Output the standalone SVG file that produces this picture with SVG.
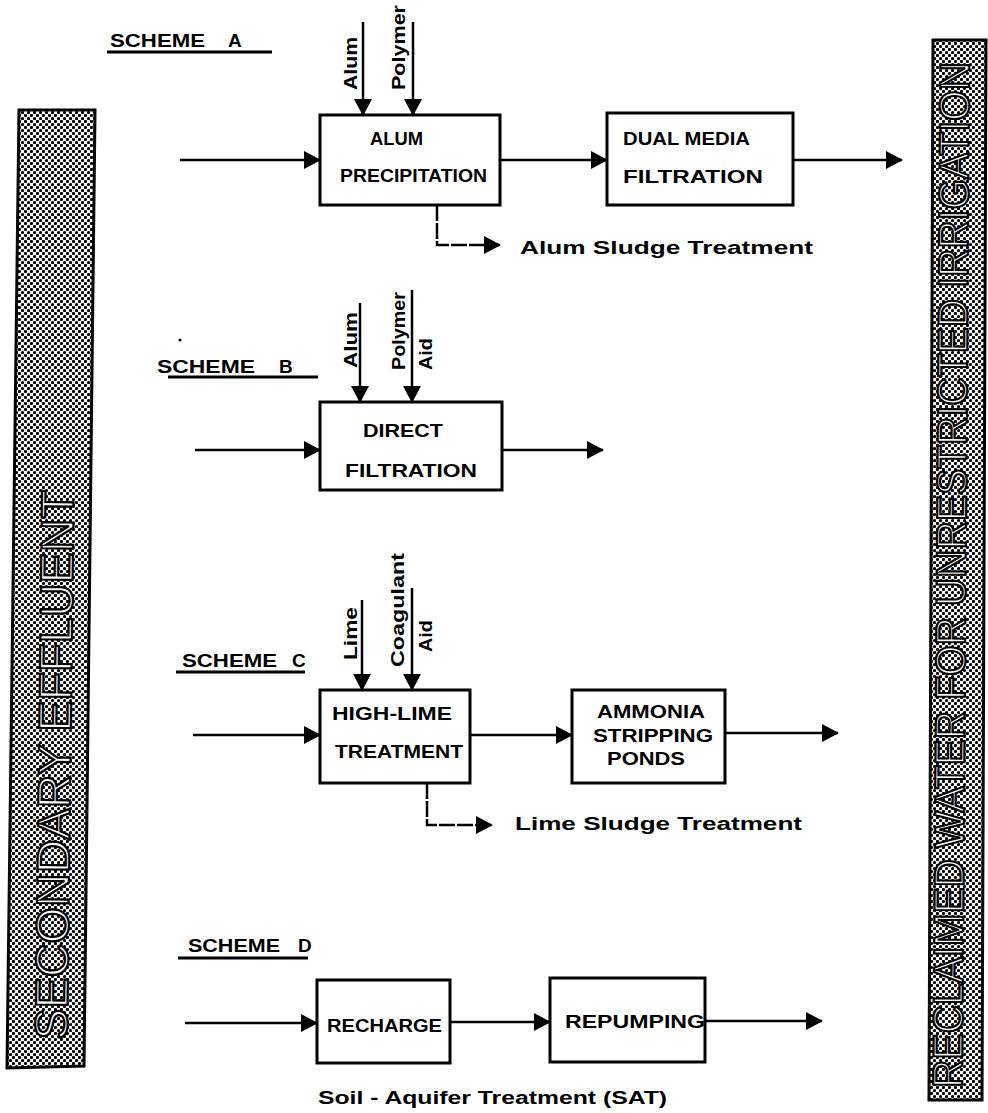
<svg xmlns="http://www.w3.org/2000/svg" width="988" height="1113" viewBox="0 0 988 1113">
<defs>
<pattern id="dots" x="0" y="0" width="6" height="6" patternUnits="userSpaceOnUse">
<rect width="6" height="6" fill="#fff"/>
<circle cx="1.5" cy="1.5" r="1.6" fill="#000"/>
<circle cx="4.5" cy="4.5" r="1.6" fill="#000"/>
</pattern>
<marker id="ah" markerUnits="userSpaceOnUse" markerWidth="17" markerHeight="18" viewBox="0 0 17 18" refX="16" refY="9" orient="auto">
<path d="M0,0 L17,9 L0,18 z" fill="#000"/>
</marker>
</defs>
<style>
.box{fill:#fff;stroke:#000;stroke-width:3}
.ln{fill:none;stroke:#000;stroke-width:2.5}
.arr{marker-end:url(#ah)}
.sl{stroke-dasharray:16 2}
.t{font-family:"Liberation Sans",Arial,sans-serif;font-weight:bold;fill:#000}
.bx{font-size:18px;text-anchor:start}
.sc{font-size:19px}
.ch{font-size:18px}
.bar{stroke:#000;stroke-width:3;fill:url(#dots)}
.bt{font-family:"Liberation Sans",Arial,sans-serif;fill:#fff;stroke:#000;stroke-width:2.2}
.ul{stroke:#000;stroke-width:3}
</style>
<rect width="988" height="1113" fill="#fff"/>

<g id="secondary-effluent">
<polygon class="bar" points="19,110 95,110 84,1066 7,1068"/>
<text class="bt" font-size="46" transform="translate(67,1040) rotate(-89.3)" textLength="550" lengthAdjust="spacingAndGlyphs">SECONDARY  EFFLUENT</text>
</g>

<g id="reclaimed-water">
<polygon class="bar" points="933,40 986,40 982,1100 929,1100"/>
<text class="bt" font-size="42" transform="translate(962,1088) rotate(-89.6)" textLength="1026" lengthAdjust="spacingAndGlyphs">RECLAIMED WATER FOR UNRESTRICTED IRRIGATION</text>
</g>

<g id="scheme-a-title">
<text class="t sc" y="47"><tspan x="110" textLength="95" lengthAdjust="spacingAndGlyphs">SCHEME</tspan><tspan x="228">A</tspan></text>
<line class="ul" x1="107" y1="52" x2="272" y2="52"/>
</g>
<g id="scheme-b-title">
<text class="t sc" y="373"><tspan x="157" textLength="98" lengthAdjust="spacingAndGlyphs">SCHEME</tspan><tspan x="279">B</tspan></text>
<line class="ul" x1="168" y1="377" x2="318" y2="377"/>
<circle cx="180" cy="340" r="1.6" fill="#000"/>
</g>
<g id="scheme-c-title">
<text class="t sc" y="667"><tspan x="182" textLength="95" lengthAdjust="spacingAndGlyphs">SCHEME</tspan><tspan x="292">C</tspan></text>
<line class="ul" x1="176" y1="672" x2="305" y2="672"/>
</g>
<g id="scheme-d-title">
<text class="t sc" y="952"><tspan x="188" textLength="92" lengthAdjust="spacingAndGlyphs">SCHEME</tspan><tspan x="298">D</tspan></text>
<line class="ul" x1="178" y1="958" x2="308" y2="958"/>
</g>

<g id="connectors">
<!-- Scheme A -->
<line class="ln arr" x1="180" y1="160" x2="320" y2="160"/>
<line class="ln arr" x1="363" y1="22" x2="363" y2="115"/>
<line class="ln arr" x1="413" y1="22" x2="413" y2="115"/>
<line class="ln arr" x1="500" y1="160" x2="607" y2="160"/>
<line class="ln arr" x1="793" y1="160" x2="902" y2="160"/>
<path class="ln arr sl" d="M437,205 V245 H500"/>
<!-- Scheme B -->
<line class="ln arr" x1="195" y1="450" x2="320" y2="450"/>
<line class="ln arr" x1="360" y1="303" x2="360" y2="402"/>
<line class="ln arr" x1="412" y1="290" x2="412" y2="402"/>
<line class="ln arr" x1="502" y1="450" x2="603" y2="450"/>
<!-- Scheme C -->
<line class="ln arr" x1="193" y1="735" x2="320" y2="735"/>
<line class="ln arr" x1="362" y1="600" x2="362" y2="690"/>
<line class="ln arr" x1="412" y1="588" x2="412" y2="690"/>
<line class="ln arr" x1="470" y1="735" x2="572" y2="735"/>
<line class="ln arr" x1="725" y1="733" x2="838" y2="733"/>
<path class="ln arr sl" d="M427,783 V825 H492"/>
<!-- Scheme D -->
<line class="ln arr" x1="185" y1="1023" x2="317" y2="1023"/>
<line class="ln arr" x1="450" y1="1022" x2="550" y2="1022"/>
<line class="ln arr" x1="705" y1="1021" x2="822" y2="1021"/>
</g>

<g id="labels-chemicals">
<text class="t ch" transform="translate(357,90) rotate(-90)" textLength="53" lengthAdjust="spacingAndGlyphs">Alum</text>
<text class="t ch" transform="translate(405,90) rotate(-90)" textLength="85" lengthAdjust="spacingAndGlyphs">Polymer</text>
<text class="t ch" transform="translate(357,368) rotate(-90)" textLength="56" lengthAdjust="spacingAndGlyphs">Alum</text>
<text class="t ch" transform="translate(405,370) rotate(-90)" textLength="78" lengthAdjust="spacingAndGlyphs">Polymer</text>
<text class="t ch" transform="translate(432,370) rotate(-90)" textLength="32" lengthAdjust="spacingAndGlyphs">Aid</text>
<text class="t ch" transform="translate(357,660) rotate(-90)" textLength="53" lengthAdjust="spacingAndGlyphs">Lime</text>
<text class="t ch" transform="translate(404,667) rotate(-90)" textLength="114" lengthAdjust="spacingAndGlyphs">Coagulant</text>
<text class="t ch" transform="translate(432,652) rotate(-90)" textLength="32" lengthAdjust="spacingAndGlyphs">Aid</text>
</g>

<g id="alum-precipitation">
<rect class="box" x="320" y="115" width="180" height="90"/>
<text class="t bx" x="370" y="145" textLength="53" lengthAdjust="spacingAndGlyphs">ALUM</text>
<text class="t bx" x="340" y="182" textLength="147" lengthAdjust="spacingAndGlyphs">PRECIPITATION</text>
</g>
<g id="dual-media-filtration">
<rect class="box" x="607" y="113" width="186" height="92"/>
<text class="t bx" x="623" y="145" textLength="127" lengthAdjust="spacingAndGlyphs">DUAL MEDIA</text>
<text class="t bx" x="623" y="183" textLength="140" lengthAdjust="spacingAndGlyphs">FILTRATION</text>
</g>
<g id="alum-sludge">
<text class="t" font-size="18" x="520" y="254" textLength="293" lengthAdjust="spacingAndGlyphs">Alum  Sludge  Treatment</text>
</g>
<g id="direct-filtration">
<rect class="box" x="320" y="402" width="182" height="88"/>
<text class="t bx" x="363" y="437" textLength="80" lengthAdjust="spacingAndGlyphs">DIRECT</text>
<text class="t bx" x="345" y="477" textLength="132" lengthAdjust="spacingAndGlyphs">FILTRATION</text>
</g>
<g id="high-lime-treatment">
<rect class="box" x="320" y="690" width="150" height="93"/>
<text class="t bx" x="332" y="720" textLength="120" lengthAdjust="spacingAndGlyphs">HIGH-LIME</text>
<text class="t bx" x="335" y="758" textLength="128" lengthAdjust="spacingAndGlyphs">TREATMENT</text>
</g>
<g id="ammonia-stripping-ponds">
<rect class="box" x="572" y="690" width="153" height="93"/>
<text class="t bx" x="597" y="718" textLength="108" lengthAdjust="spacingAndGlyphs">AMMONIA</text>
<text class="t bx" x="593" y="742" textLength="120" lengthAdjust="spacingAndGlyphs">STRIPPING</text>
<text class="t bx" x="607" y="765" textLength="78" lengthAdjust="spacingAndGlyphs">PONDS</text>
</g>
<g id="lime-sludge">
<text class="t" font-size="18" x="515" y="830" textLength="287" lengthAdjust="spacingAndGlyphs">Lime Sludge  Treatment</text>
</g>
<g id="recharge">
<rect class="box" x="317" y="980" width="133" height="83"/>
<text class="t bx" x="327" y="1032" textLength="115" lengthAdjust="spacingAndGlyphs">RECHARGE</text>
</g>
<g id="repumping">
<rect class="box" x="550" y="978" width="155" height="84"/>
<text class="t bx" x="565" y="1028" textLength="140" lengthAdjust="spacingAndGlyphs">REPUMPING</text>
</g>
<g id="sat-label">
<text class="t" font-size="18" x="318" y="1104" textLength="349" lengthAdjust="spacingAndGlyphs">Soil - Aquifer  Treatment  (SAT)</text>
</g>
</svg>
